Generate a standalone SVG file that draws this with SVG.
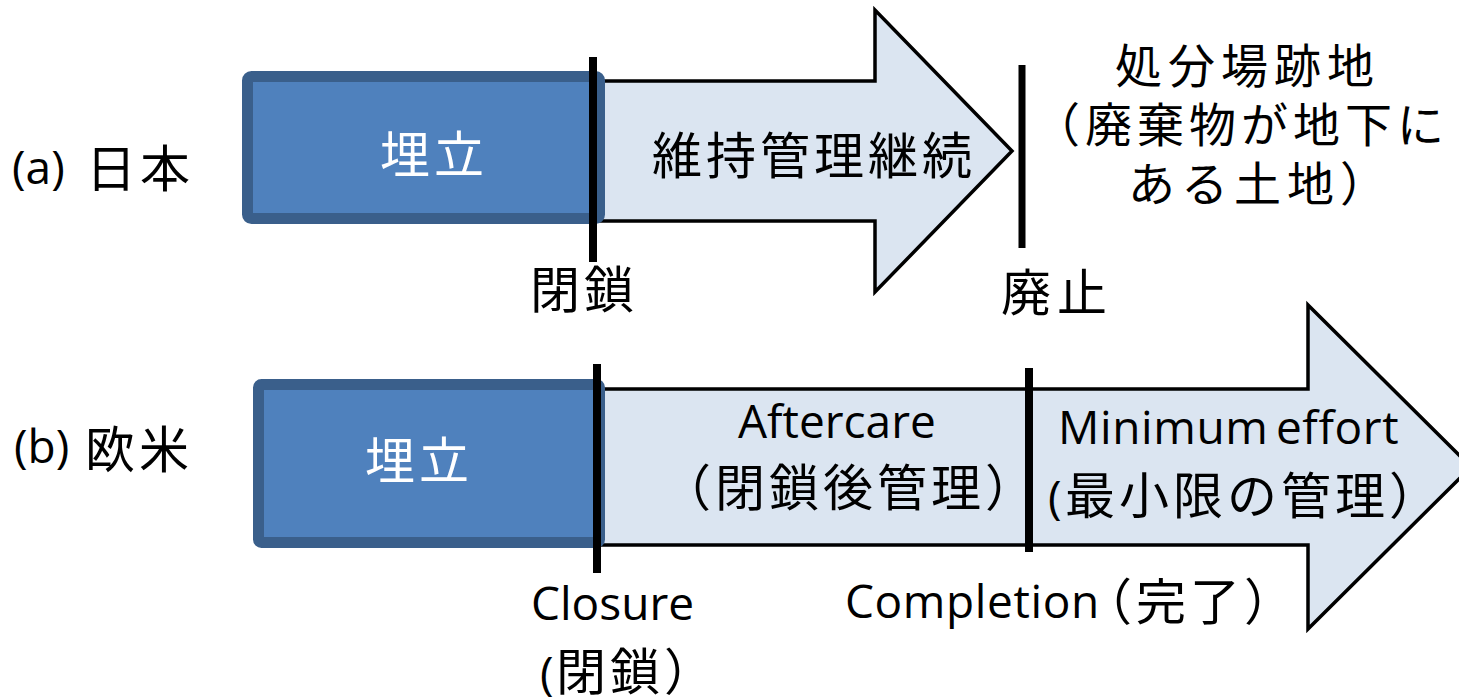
<svg xmlns="http://www.w3.org/2000/svg" width="1459" height="699" viewBox="0 0 1459 699">
<style>
.bg{fill:#FFFFFF}
.arrow{fill:#DBE5F1;stroke:#000000;stroke-width:3.5;stroke-linejoin:miter}
.fill{fill:#4F81BD;stroke:#3A5F8B;stroke-width:11}
.tick{stroke:#000000;stroke-width:8;fill:none}
.jp{font-family:"Noto Sans CJK JP","Noto Sans CJK SC",sans-serif;font-size:50px;letter-spacing:4px;fill:#000000}
.lat{font-family:"Open Sans","Noto Sans CJK JP",sans-serif;font-size:46px;fill:#000000}
.side{font-size:47px;letter-spacing:6px}
.w{fill:#FFFFFF}
</style>
<rect class="bg" x="0" y="0" width="1459" height="699"/>

<g id="label-a">
<text class="lat" x="12" y="184">(a)</text>
<text class="jp" x="86" y="187">日本</text>
</g>
<g id="label-b">
<text class="lat" x="14" y="463">(b)</text>
<text class="jp" x="85" y="468">欧米</text>
</g>

<g id="arrow-a">
<polygon class="arrow" points="600,81 875,81 875,10 1012,151 875,292 875,221 600,221"/>
<text class="jp" x="652" y="174">維持管理継続</text>
</g>
<g id="fill-a">
<rect class="fill" x="247.5" y="76.5" width="352" height="142" rx="4"/>
<text class="jp w" x="380" y="173">埋立</text>
</g>

<g id="arrow-b">
<polygon class="arrow" points="600,389 1308,389 1308,305 1471,467 1308,629 1308,545 600,545"/>
<text class="lat" x="738" y="438">Aftercare</text>
<text class="jp" x="661" y="506">（閉鎖後管理）</text>
<text class="lat" x="1058" y="444" style="letter-spacing:0.6px;word-spacing:-5px">Minimum effort</text>
<text class="lat" x="1048" y="514">(</text>
<text class="jp" x="1065" y="514">最小限の管理）</text>
</g>
<g id="fill-b">
<rect class="fill" x="258.5" y="384.5" width="341" height="158" rx="3"/>
<text class="jp w" x="365" y="479">埋立</text>
</g>

<g id="connectors">
<line class="tick" x1="593" y1="57" x2="593" y2="262"/>
<line class="tick" x1="1022" y1="65" x2="1022" y2="248" style="stroke-width:7"/>
<line class="tick" x1="597" y1="364" x2="597" y2="573"/>
<line class="tick" x1="1029" y1="368" x2="1029" y2="552"/>
</g>

<g id="closure-a">
<text class="jp" x="530" y="308">閉鎖</text>
</g>
<g id="abolition-a">
<text class="jp" x="1001" y="311" style="letter-spacing:6px">廃止</text>
</g>
<g id="site-a">
<text class="jp side" x="1115" y="83">処分場跡地</text>
<text class="jp side" x="1033" y="142" style="letter-spacing:5px">（廃棄物が地下に</text>
<text class="jp side" x="1128" y="201">ある土地）</text>
</g>

<g id="closure-b">
<text class="lat" x="531" y="620">Closure</text>
<text class="lat" x="540" y="690">(</text>
<text class="jp" x="556" y="690">閉鎖）</text>
</g>
<g id="completion-b">
<text class="lat" x="845" y="618" style="letter-spacing:0.6px">Completion</text>
<text class="jp" x="1082" y="620">（完了）</text>
</g>
</svg>
